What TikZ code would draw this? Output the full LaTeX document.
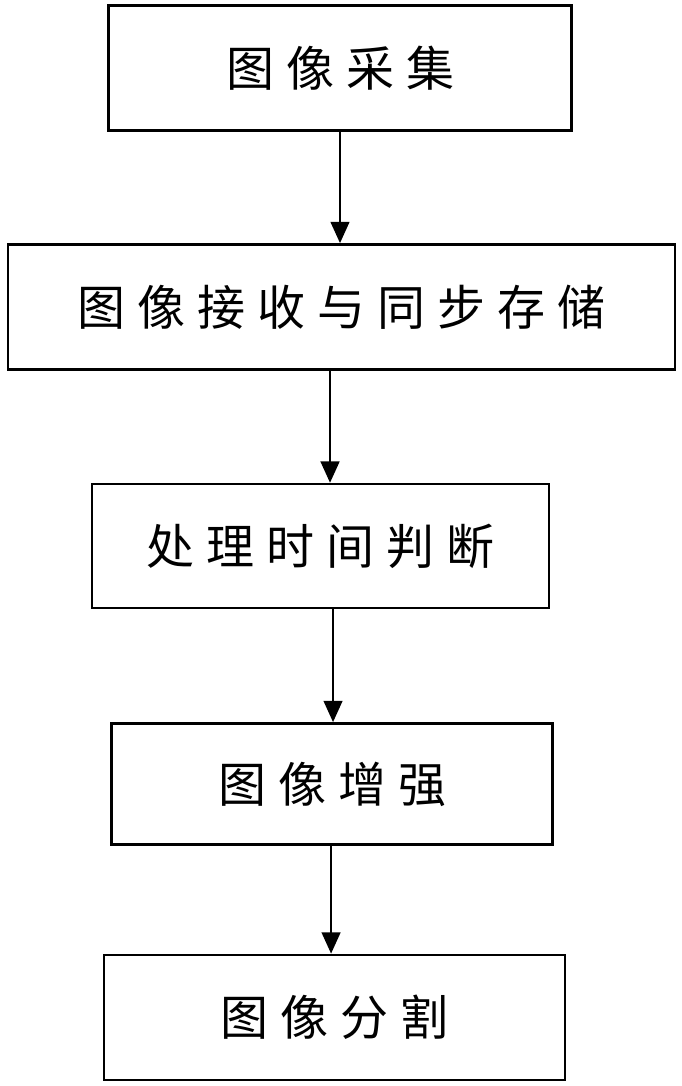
\documentclass[tikz,border=0pt]{standalone}
\usepackage{fontspec}
\setmainfont{Noto Sans CJK SC}
\usetikzlibrary{arrows.meta}

\begin{document}
\begin{tikzpicture}[x=0.75pt,y=0.75pt,yscale=-1,xscale=1,
	stage/.style={draw,line width=1.8pt,inner sep=0pt,font=\fontsize{36pt}{40pt}\selectfont\addfontfeature{LetterSpace=25}},
	flow/.style={line width=1.8pt,-{Triangle[length=16pt,width=14pt]}}]
	\useasboundingbox (0,0) rectangle (682,1086);
	% boxes
	\node [stage,minimum width=347pt,minimum height=94pt] (cap) at (340,68) {图像采集};
	\node [stage,minimum width=500pt,minimum height=94pt] (recv) at (341.5,307) {图像接收与同步存储};
	\node [stage,minimum width=343pt,minimum height=93pt] (judge) at (320.5,546) {处理时间判断};
	\node [stage,minimum width=331pt,minimum height=91pt] (enh) at (332,784) {图像增强};
	\node [stage,minimum width=346pt,minimum height=94pt] (seg) at (334.5,1017.5) {图像分割};
	% arrows
	\draw [flow] (cap.south) -- (cap.south |- recv.north);
	\draw [flow] ([xshift=-8.6pt]recv.south) -- ([xshift=-8.6pt]recv.south |- judge.north);
	\draw [flow] ([xshift=9.4pt]judge.south) -- ([xshift=9.4pt]judge.south |- enh.north);
	\draw [flow] ([xshift=-0.7pt]enh.south) -- ([xshift=-0.7pt]enh.south |- seg.north);
\end{tikzpicture}
\end{document}
